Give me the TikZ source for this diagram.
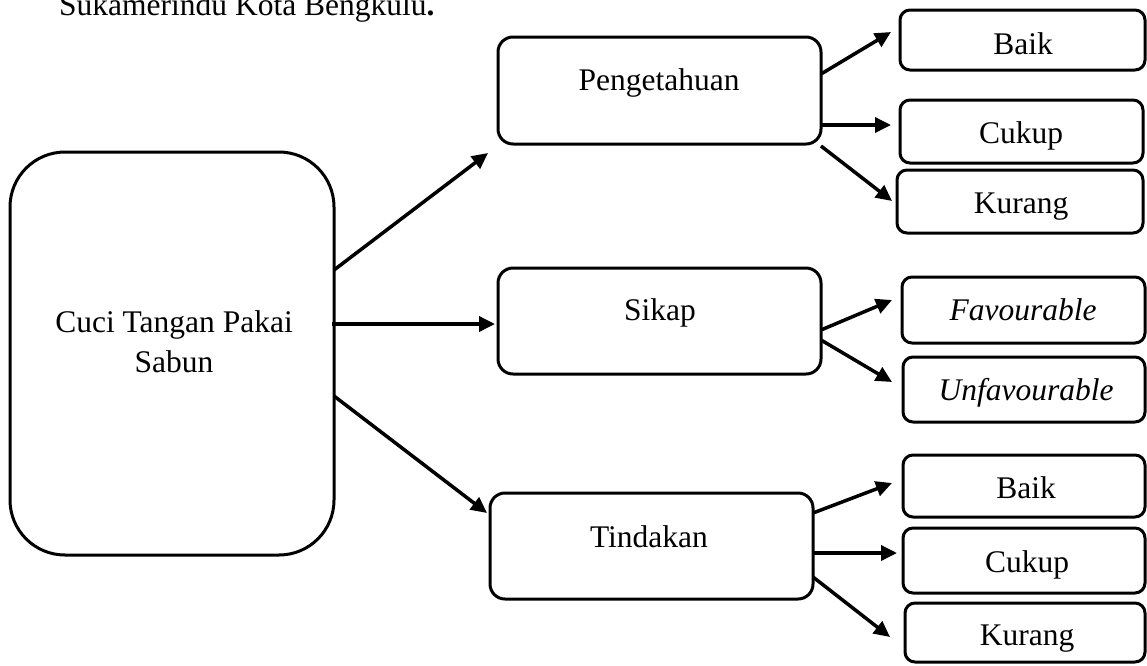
\documentclass[tikz,border=0pt]{standalone}
\usepackage{fontspec}
\setmainfont{Liberation Serif}
\usetikzlibrary{arrows.meta}
\tikzset{
  box/.style={draw, line width=3pt, outer sep=0pt, inner sep=0pt, rounded corners=15pt},
  bigbox/.style={box, rounded corners=55pt},
  smallbox/.style={box, rounded corners=10pt},
  lbl/.style={anchor=base, inner sep=0pt, font=\fontsize{31.5}{40}\selectfont},
  arr/.style={line width=3.5pt, -{Triangle[length=16pt,width=15pt]}}
}
\begin{document}
\begin{tikzpicture}[x=1pt,y=-1pt]
\clip (0,0) rectangle (1147,665);
\fill[white] (0,0) rectangle (1147,665);
% title fragment
\node[lbl, anchor=base west] (title) at (59,15) {Sukamerindu Kota Bengkulu\textbf{.}};
% main box
\node[bigbox, minimum width=324pt, minimum height=403pt] (m) at (172,353.5) {};
\node[lbl, align=center, anchor=base] (mt) at (174,372) {Cuci Tangan Pakai\\Sabun};
% middle boxes
\node[box, minimum width=323pt, minimum height=107pt] (pg) at (659.5,90.5) {};
\node[lbl] (pgt) at (659,90) {Pengetahuan};
\node[box, minimum width=323pt, minimum height=106pt] (sk) at (659.5,321) {};
\node[lbl] (skt) at (660,320) {Sikap};
\node[box, minimum width=323pt, minimum height=106pt] (td) at (651.5,546) {};
\node[lbl] (tdt) at (649,547) {Tindakan};
% right boxes
\node[smallbox, minimum width=245pt, minimum height=60pt] (r1) at (1022.5,40) {};
\node[lbl] (r1t) at (1023,54) {Baik};
\node[smallbox, minimum width=243pt, minimum height=63pt] (r2) at (1021.5,131.5) {};
\node[lbl] (r2t) at (1021,143) {Cukup};
\node[smallbox, minimum width=246pt, minimum height=63pt] (r3) at (1020,201.5) {};
\node[lbl] (r3t) at (1021,213) {Kurang};
\node[smallbox, minimum width=243pt, minimum height=66pt] (r4) at (1023.5,310) {};
\node[lbl] (r4t) at (1023,320) {\itshape Favourable};
\node[smallbox, minimum width=242pt, minimum height=65pt] (r5) at (1024,389.5) {};
\node[lbl] (r5t) at (1026,400) {\itshape Unfavourable};
\node[smallbox, minimum width=242pt, minimum height=62pt] (r6) at (1024,486) {};
\node[lbl] (r6t) at (1026,498) {Baik};
\node[smallbox, minimum width=242pt, minimum height=65pt] (r7) at (1024,560.5) {};
\node[lbl] (r7t) at (1027,572) {Cukup};
\node[smallbox, minimum width=240pt, minimum height=59pt] (r8) at (1025,632.5) {};
\node[lbl] (r8t) at (1027,645) {Kurang};
% arrow end points
\coordinate (e1) at (488,153);
\coordinate (e2) at (495,324);
\coordinate (e3) at (487,513);
\coordinate (f1) at (891,32);
\coordinate (f2) at (891,125);
\coordinate (f3) at (892,201);
\coordinate (f4) at (892,300);
\coordinate (f5) at (892,382);
\coordinate (f6) at (892,483);
\coordinate (f7) at (897,553);
\coordinate (f8) at (890,637);
% arrows
\draw[arr] (m.east |- 0,270) -- (e1);
\draw[arr] ([xshift=-2pt]m.east |- 0,324) -- (e2);
\draw[arr] (m.east |- 0,396) -- (e3);
\draw[arr] (pg.east |- 0,74) -- (f1);
\draw[arr] (pg.east |- 0,125) -- (f2);
\draw[arr] (pg.east |- 0,146) -- (f3);
\draw[arr] (sk.east |- 0,330) -- (f4);
\draw[arr] (sk.east |- 0,340) -- (f5);
\draw[arr] (td.east |- 0,513) -- (f6);
\draw[arr] (td.east |- 0,553) -- (f7);
\draw[arr] (td.east |- 0,577) -- (f8);
\end{tikzpicture}
\end{document}
